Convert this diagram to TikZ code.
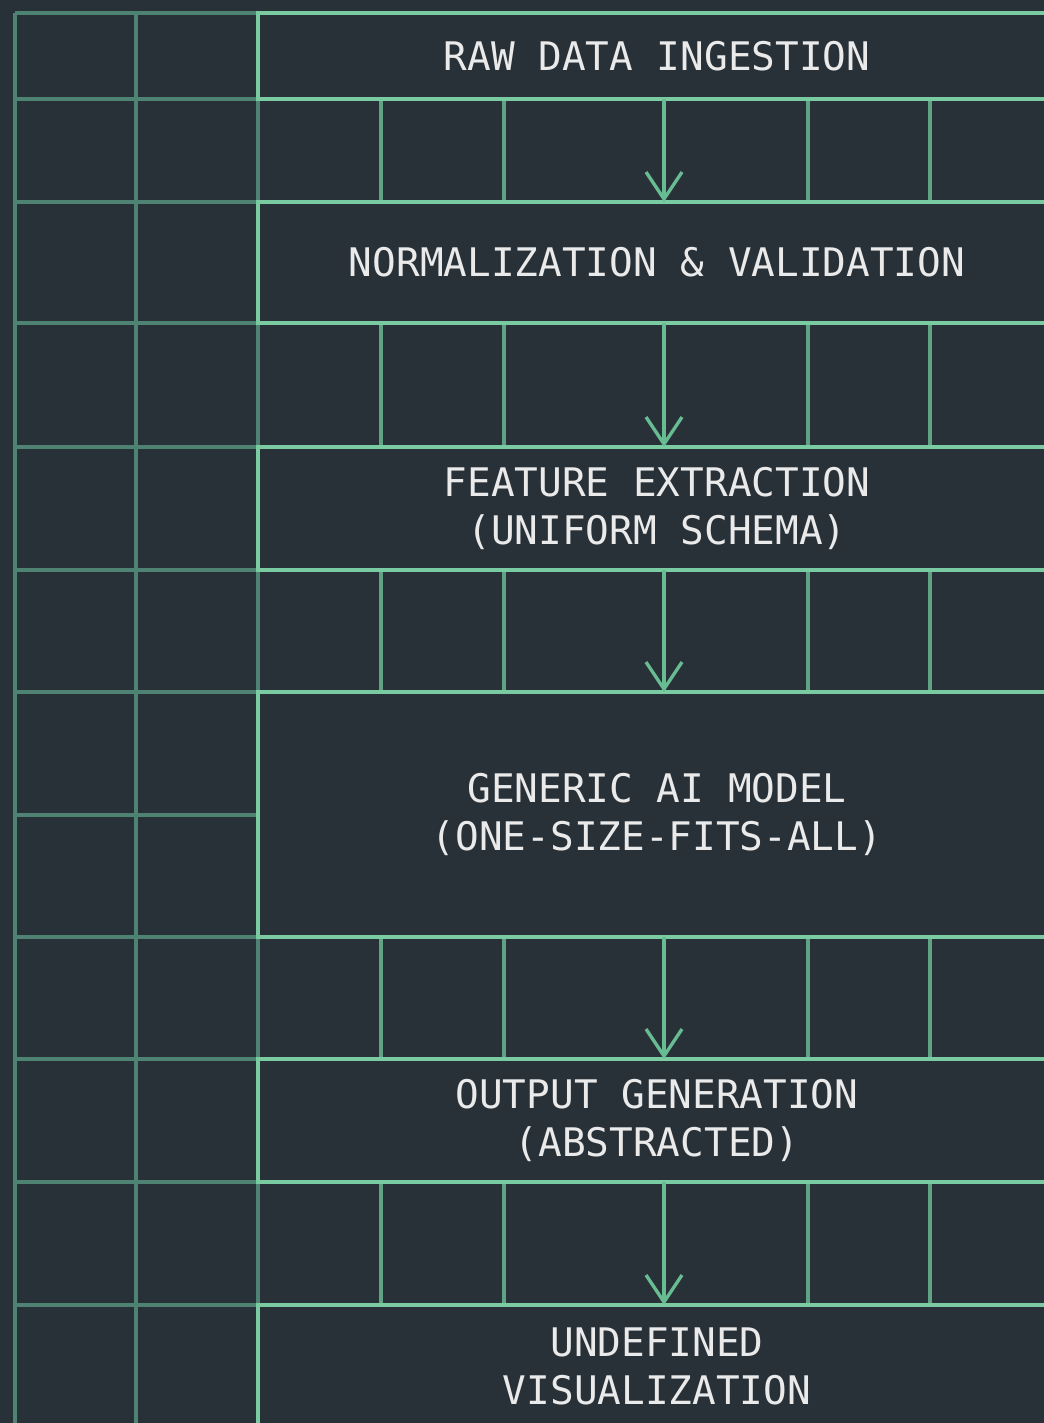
\documentclass[tikz,border=0pt]{standalone}
\usepackage{fontspec}
\usepackage{xcolor}
\usetikzlibrary{calc,arrows.meta}
\newfontfamily\stagefont{DejaVu Sans Mono}
\definecolor{slate}{HTML}{283138}
\definecolor{griddim}{HTML}{4E8272}
\definecolor{cellgreen}{HTML}{5FA384}
\definecolor{boxgreen}{HTML}{7ACBA2}
\definecolor{flowgreen}{HTML}{68BC92}
\definecolor{paper}{HTML}{EAEAEA}
\tikzstyle{gridline}=[draw=griddim, line width=1.9pt]
\tikzstyle{cellline}=[draw=cellgreen, line width=1.9pt]
\tikzstyle{stage}=[draw=boxgreen, line width=2.6pt, inner sep=0pt, outer sep=0pt, minimum width=15.96cm, align=center, text=paper, font=\stagefont\fontsize{22.4}{27.3}\selectfont]
\tikzstyle{flow}=[draw=flowgreen, line width=1.9pt, -{Straight Barb[length=0.54cm, width=0.72cm]}]
% grid in pixel units
\newcommand{\colA}{15}
\newcommand{\colB}{136}
\newcommand{\colC}{258}
\begin{document}
\begin{tikzpicture}[x=0.02cm, y=-0.02cm]
\useasboundingbox (0,0) rectangle (1044,1423);
\fill[slate] (0,0) rectangle (1044,1423);
\clip (0,0) rectangle (1044,1423);
% left margin columns
\foreach \x in {\colA,\colB,\colC}
	\draw[gridline] (\x,13) -- (\x,1440);
\foreach \y in {13,99,202,323,447,570,692,815,937,1059,1182,1305}
	\draw[gridline] (\colA,\y) -- (\colC,\y);
% cells between the stages
\foreach \a/\b in {99/202,323/447,570/692,937/1059,1182/1305} {
	\foreach \x in {381,504,808,930}
		\draw[cellline] (\x,\a) -- (\x,\b);
}
% stages
\node[stage, minimum height=1.72cm] (raw) at (657,56) {RAW DATA INGESTION};
\node[stage, minimum height=2.42cm] (norm) at (657,262.5) {NORMALIZATION \& VALIDATION};
\node[stage, minimum height=2.46cm] (feat) at (657,508.5) {FEATURE EXTRACTION\\(UNIFORM SCHEMA)};
\node[stage, minimum height=4.9cm] (model) at (657,814.5) {GENERIC AI MODEL\\(ONE-SIZE-FITS-ALL)};
\node[stage, minimum height=2.46cm] (out) at (657,1120.5) {OUTPUT GENERATION\\(ABSTRACTED)};
\node[stage, minimum height=2.44cm] (vis) at (657,1366) {UNDEFINED\\VISUALIZATION};
% flow
\coordinate (ax) at (664,0);
\draw[flow] (raw.south -| ax) -- (norm.north -| ax);
\draw[flow] (norm.south -| ax) -- (feat.north -| ax);
\draw[flow] (feat.south -| ax) -- (model.north -| ax);
\draw[flow] (model.south -| ax) -- (out.north -| ax);
\draw[flow] (out.south -| ax) -- (vis.north -| ax);
\end{tikzpicture}
\end{document}
